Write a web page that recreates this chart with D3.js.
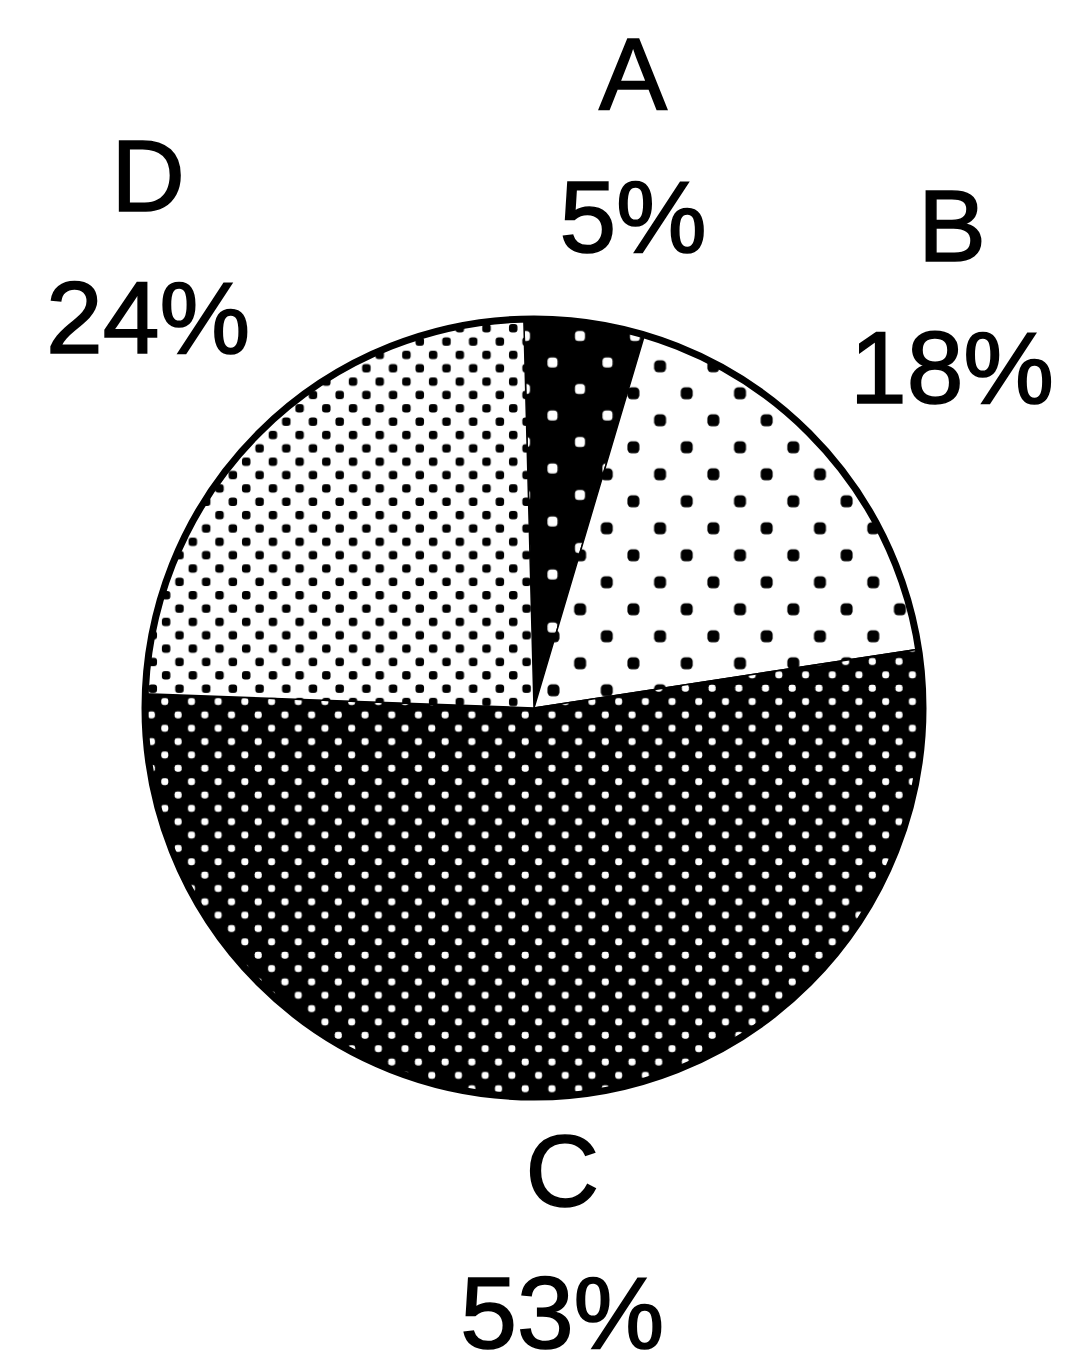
<!DOCTYPE html>
<html>
<head>
<meta charset="utf-8">
<script src="https://cdn.jsdelivr.net/npm/d3@7"></script>
<style>
  body { margin: 0; background: #fff; }
  text { font-family: "Liberation Sans", Arial, sans-serif; }
</style>
</head>
<body>
<div class="container"></div>
<script>
const wd = 1065
const ht = 1372

// data
const categories = ["A", "B", "C", "D"]
const shares = [5, 18, 53, 24]
const shareLabels = ["5%", "18%", "53%", "24%"]

const cx = 534
const cy = 708
const radius = 389
const startDeg = -1.5

// fill patterns, one per slice : bg, dot colour, tile w/h, dot size, phase
const fills = [
  {id: "patA", bg: "#000", dot: "#fff", w: 55, h: 53, s: 10, px: 32.25, py: -385.25},
  {id: "patB", bg: "#fff", dot: "#000", w: 53.3, h: 54, s: 12, px: 139.4, py: -328.2},
  {id: "patC", bg: "#000", dot: "#fff", w: 26.7, h: 26.7, s: 7, px: -215.7, py: 40.3},
  {id: "patD", bg: "#fff", dot: "#000", w: 26.7, h: 26.7, s: 8.5, px: -227.7, py: -293}
]

// little nudges so labels sit where the original put them
const labelR = 560
const nudge = [[26, 28], [-4, -8], [-4, 10], [8, -28]]

const svgC = d3.select(".container").append("svg")
  .attr("width", wd)
  .attr("height", ht)
  .style("background", "#fff")

const defs = svgC.append("defs")

fills.forEach((f) => {
  let p = defs.append("pattern")
    .attr("id", f.id)
    .attr("patternUnits", "userSpaceOnUse")
    .attr("x", f.px)
    .attr("y", f.py)
    .attr("width", f.w)
    .attr("height", f.h)
  p.append("rect")
    .attr("width", f.w)
    .attr("height", f.h)
    .attr("fill", f.bg)
  // two dots per tile -> staggered lattice
  ;[[0.25, 0.25], [0.75, 0.75]].forEach((q) => {
    p.append("rect")
      .attr("x", f.w * q[0] - f.s / 2)
      .attr("y", f.h * q[1] - f.s / 2)
      .attr("width", f.s)
      .attr("height", f.s)
      .attr("rx", f.s * 0.35)
      .attr("fill", f.dot)
  })
})

const pieGen = d3.pie()
  .sort(null)
  .startAngle(startDeg * Math.PI / 180)
  .endAngle((360 + startDeg) * Math.PI / 180)

const arcs = pieGen(shares)

const arcGen = d3.arc()
  .innerRadius(0)
  .outerRadius(radius)

const labelArc = d3.arc()
  .innerRadius(labelR)
  .outerRadius(labelR)

const pieG = svgC.append("g")
  .attr("transform", "translate(" + cx + "," + cy + ")")

pieG.selectAll("path.slice")
  .data(arcs)
  .enter()
  .append("path")
  .attr("class", "slice")
  .attr("d", arcGen)
  .attr("fill", (d, i) => "url(#" + fills[i].id + ")")
  .attr("stroke", "#000")
  .attr("stroke-width", 1.5)
  .attr("stroke-linejoin", "round")

// heavy outline round the whole pie
pieG.append("circle")
  .attr("r", radius)
  .attr("fill", "none")
  .attr("stroke", "#000")
  .attr("stroke-width", 7)

const lbl = pieG.selectAll("g.lbl")
  .data(arcs)
  .enter()
  .append("g")
  .attr("class", "lbl")
  .attr("transform", (d, i) => {
    let c = labelArc.centroid(d)
    return "translate(" + (c[0] + nudge[i][0]) + "," + (c[1] + nudge[i][1]) + ")"
  })

lbl.append("text")
  .attr("text-anchor", "middle")
  .attr("y", -71)
  .attr("font-size", 102)
  .attr("fill", "#000")
  .attr("stroke", "#000")
  .attr("stroke-width", 1.6)
  .text((d, i) => categories[i])

lbl.append("text")
  .attr("text-anchor", "middle")
  .attr("y", 71)
  .attr("font-size", 102)
  .attr("fill", "#000")
  .attr("stroke", "#000")
  .attr("stroke-width", 1.6)
  .text((d, i) => shareLabels[i])
</script>
</body>
</html>
